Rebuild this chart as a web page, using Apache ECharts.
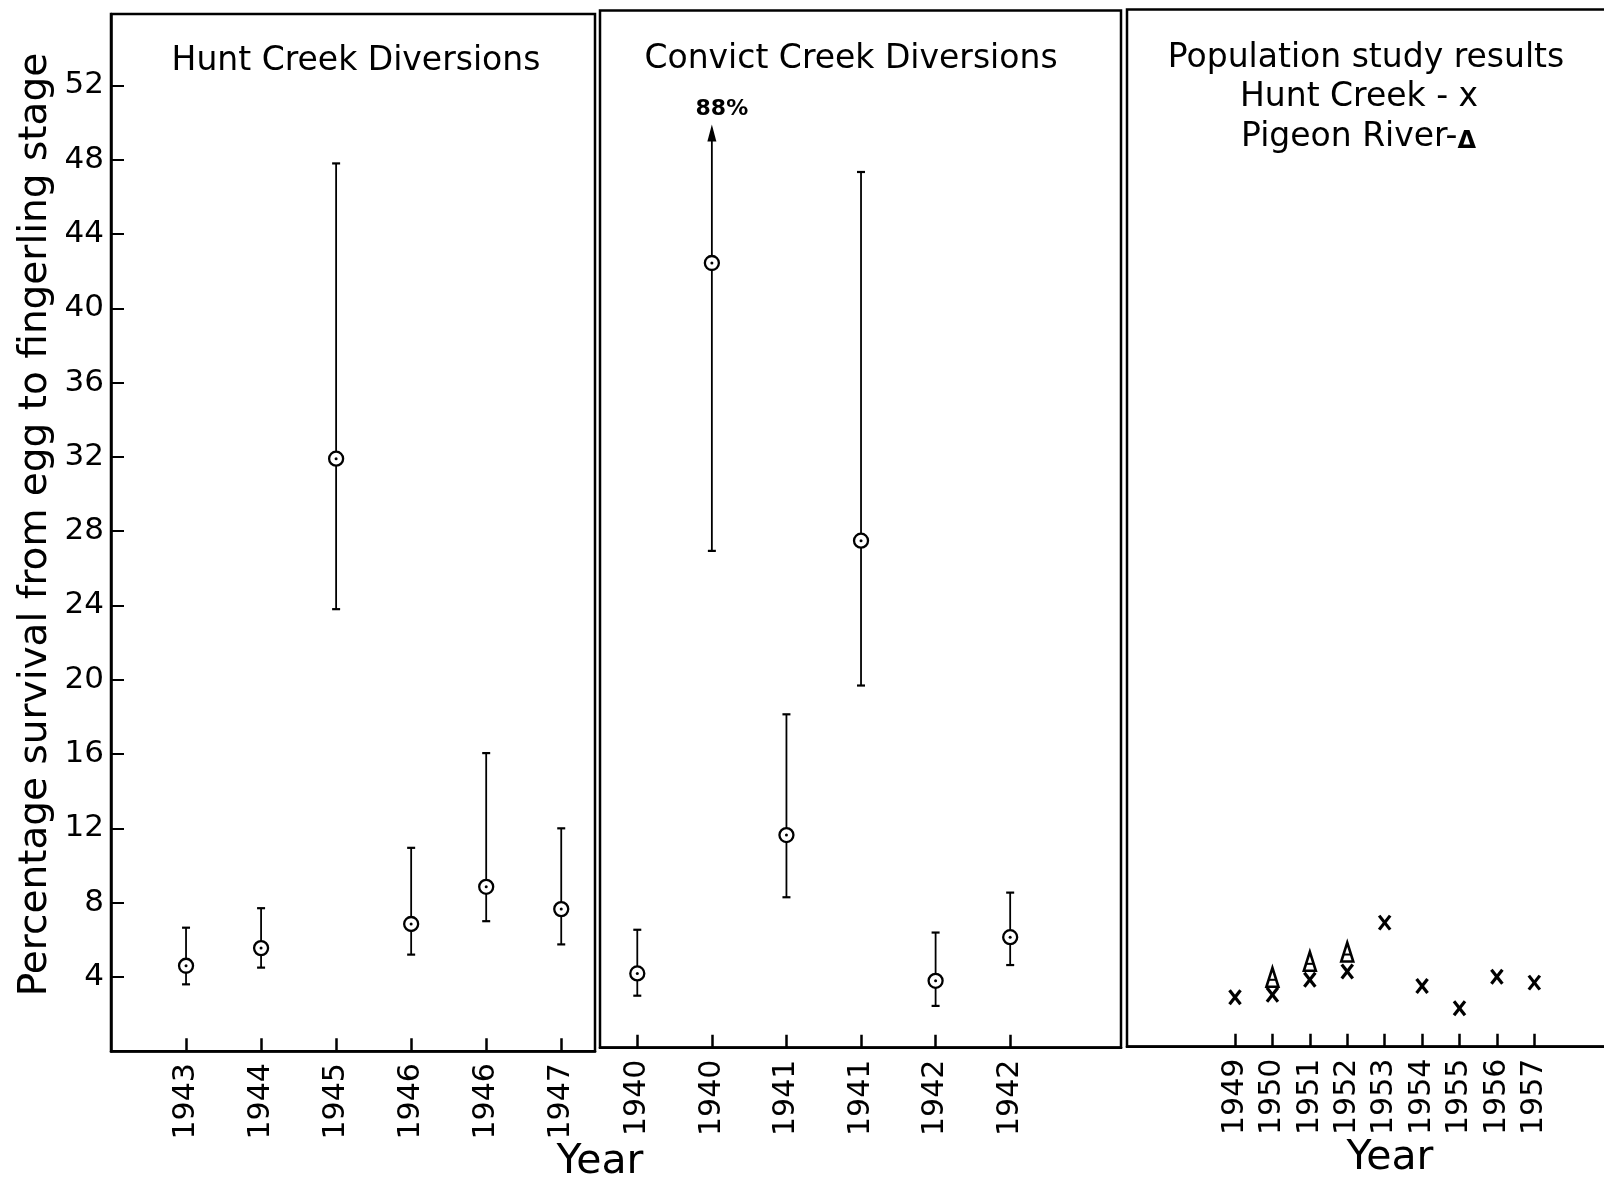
<!DOCTYPE html>
<html>
<head>
<meta charset="utf-8">
<script src="https://cdn.jsdelivr.net/npm/echarts@6/dist/echarts.min.js"></script>
<style>
html,body{margin:0;padding:0;background:#fff;}
#chart{width:1604px;height:1180px;}
</style>
</head>
<body>
<div id="chart"></div>
<script>
// ---------- data ----------
const yTicks = [4, 8, 12, 16, 20, 24, 28, 32, 36, 40, 44, 48, 52];

const huntLabels = ['1943', '1944', '1945', '1946', '1946', '1947'];
const huntMean   = [4.6, 5.55, 31.9, 6.85, 8.85, 7.65];
const huntLow    = [3.6, 4.5, 23.8, 5.2, 7.0, 5.75];
const huntHigh   = [6.65, 7.7, 47.8, 10.95, 16.05, 12.0];

const convictLabels = ['1940', '1940', '1941', '1941', '1942', '1942'];
const convictMean   = [4.0, 42.25, 11.45, 27.3, 3.6, 5.95];
const convictLow    = [2.8, 26.75, 8.1, 19.5, 2.25, 4.45];
const convictHigh   = [6.35, 49.7, 17.95, 47.15, 6.2, 8.35];
const convictArrow  = [0, 1, 0, 0, 0, 0];
const convictNote   = ['', '88%', '', '', '', ''];

const popYears     = [1949, 1950, 1951, 1952, 1953, 1954, 1955, 1956, 1957];
const popHuntCreek = [2.66, 2.8, 3.6, 4.05, 6.68, 3.27, 2.07, 3.77, 3.45];
const pigeonYears  = [1950, 1951, 1952];
const pigeonValues = [3.71, 4.57, 5.07];

// ---------- chart ----------
const FONT = 'DejaVu Sans';
const BLACK = '#000';
const Y_MAX = 55.85;
const GRID_H = 1037.3;

const chart = echarts.init(document.getElementById('chart'), null, {renderer: 'canvas'});

function baseX(gridIndex, min, max, ticks, fmt) {
  return {
    type: 'value', gridIndex, min, max,
    axisLine: {show: true, onZero: false, lineStyle: {color: BLACK, width: 2.5}},
    axisTick: {show: true, inside: true, length: 13, customValues: ticks,
      lineStyle: {color: BLACK, width: 2.5}},
    axisLabel: {show: true, customValues: ticks, formatter: fmt, rotate: 90, margin: 12,
      fontSize: 30, fontFamily: FONT, color: BLACK},
    splitLine: {show: false}
  };
}
function baseY(gridIndex, showLabels) {
  return {
    type: 'value', gridIndex, min: 0, max: Y_MAX, interval: 4,
    axisLine: {show: showLabels, lineStyle: {color: BLACK, width: 2.5}},
    axisTick: {show: showLabels, inside: true, length: 13, customValues: yTicks,
      lineStyle: {color: BLACK, width: 2}},
    axisLabel: {show: showLabels, customValues: yTicks, margin: 7,
      fontSize: 31, fontFamily: FONT, color: BLACK},
    splitLine: {show: false},
    name: showLabels ? 'Percentage survival from egg to fingerling stage' : '',
    nameLocation: 'middle', nameGap: 56, nameRotate: 90, nameMoveOverlap: false,
    nameTextStyle: {fontSize: 39, fontFamily: FONT, color: BLACK, padding: [0, 0, 0, 16]}
  };
}

function errRender(notes) {
  return function (params, api) {
    const x = api.value(0), m = api.value(1), lo = api.value(2), hi = api.value(3), arrow = api.value(4);
    const pm = api.coord([x, m]), pl = api.coord([x, lo]), ph = api.coord([x, hi]);
    const ch = [];
    ch.push({type: 'line', shape: {x1: pl[0], y1: pl[1], x2: ph[0], y2: arrow ? ph[1] + 12 : ph[1]},
      style: {stroke: BLACK, lineWidth: 1.8}});
    ch.push({type: 'line', shape: {x1: pl[0] - 4, y1: pl[1], x2: pl[0] + 4, y2: pl[1]},
      style: {stroke: BLACK, lineWidth: 2.2}});
    if (arrow) {
      ch.push({type: 'polygon', shape: {points: [[ph[0], ph[1]], [ph[0] - 4.5, ph[1] + 17], [ph[0] + 4.5, ph[1] + 17]]},
        style: {fill: BLACK}});
      if (notes && notes[params.dataIndex]) {
        ch.push({type: 'text', x: ph[0] + 10, y: ph[1] - 15,
          style: {text: notes[params.dataIndex], font: 'bold 22px "DejaVu Sans"', fill: BLACK,
            align: 'center', verticalAlign: 'middle'}});
      }
    } else {
      ch.push({type: 'line', shape: {x1: ph[0] - 4, y1: ph[1], x2: ph[0] + 4, y2: ph[1]},
        style: {stroke: BLACK, lineWidth: 2.2}});
    }
    ch.push({type: 'circle', shape: {cx: pm[0], cy: pm[1], r: 7}, style: {fill: '#fff', stroke: BLACK, lineWidth: 2.3}});
    ch.push({type: 'circle', shape: {cx: pm[0], cy: pm[1], r: 1.5}, style: {fill: BLACK}});
    return {type: 'group', children: ch};
  };
}

function crossRender(params, api) {
  const p = api.coord([api.value(0), api.value(1)]);
  const w = 5.5, h = 7;
  return {type: 'group', children: [
    {type: 'line', shape: {x1: p[0] - w, y1: p[1] - h, x2: p[0] + w, y2: p[1] + h}, style: {stroke: BLACK, lineWidth: 3.2}},
    {type: 'line', shape: {x1: p[0] + w, y1: p[1] - h, x2: p[0] - w, y2: p[1] + h}, style: {stroke: BLACK, lineWidth: 3.2}}
  ]};
}
function triRender(params, api) {
  const p = api.coord([api.value(0), api.value(1)]);
  return {type: 'group', children: [
    {type: 'polygon', shape: {points: [[p[0], p[1] - 10], [p[0] - 6, p[1] + 9], [p[0] + 6, p[1] + 9]]},
      style: {fill: 'none', stroke: BLACK, lineWidth: 2.6}},
    {type: 'line', shape: {x1: p[0] - 4, y1: p[1] + 2, x2: p[0] + 4, y2: p[1] + 2}, style: {stroke: BLACK, lineWidth: 2}}
  ]};
}

function txt(text, x, y, size, align, extra) {
  return Object.assign({type: 'text', x, y, silent: true,
    style: Object.assign({text, font: size + 'px "DejaVu Sans"', fill: BLACK,
      align: align || 'center', verticalAlign: 'middle'}, extra || {})});
}

const option = {
  backgroundColor: '#fff',
  animation: false,
  grid: [
    {left: 111, top: 13.9, width: 484, height: GRID_H, show: true, borderColor: BLACK, borderWidth: 2.5, containLabel: false, outerBoundsMode: 'none'},
    {left: 600, top: 10.4, width: 521, height: GRID_H, show: true, borderColor: BLACK, borderWidth: 2.5, containLabel: false, outerBoundsMode: 'none'},
    {left: 1127, top: 9.4, width: 487, height: GRID_H, show: true, borderColor: BLACK, borderWidth: 2.5, containLabel: false, outerBoundsMode: 'none'}
  ],
  xAxis: [
    baseX(0, 0, 6.45, huntLabels.map((_, i) => i + 1), v => huntLabels[Math.round(v) - 1] || ''),
    baseX(1, 0.5, 7.486, convictLabels.map((_, i) => i + 1), v => convictLabels[Math.round(v) - 1] || ''),
    baseX(2, 1946.113, 1959.13, popYears, v => String(Math.round(v)))
  ],
  yAxis: [baseY(0, true), baseY(1, false), baseY(2, false)],
  series: [
    {type: 'custom', xAxisIndex: 0, yAxisIndex: 0, silent: true, renderItem: errRender(null),
      data: huntMean.map((m, i) => [i + 1, m, huntLow[i], huntHigh[i], 0])},
    {type: 'custom', xAxisIndex: 1, yAxisIndex: 1, silent: true, renderItem: errRender(convictNote),
      data: convictMean.map((m, i) => [i + 1, m, convictLow[i], convictHigh[i], convictArrow[i]])},
    {type: 'custom', xAxisIndex: 2, yAxisIndex: 2, silent: true, renderItem: crossRender,
      data: popYears.map((y, i) => [y, popHuntCreek[i]])},
    {type: 'custom', xAxisIndex: 2, yAxisIndex: 2, silent: true, renderItem: triRender,
      data: pigeonYears.map((y, i) => [y, pigeonValues[i]])}
  ],
  graphic: [
    txt('Hunt Creek Diversions', 356, 61, 33),
    txt('Convict Creek Diversions', 851, 59, 33),
    txt('Population study results', 1366, 58, 33),
    txt('Hunt Creek - x', 1240, 97, 33, 'left'),
    txt('Pigeon River-{s|Δ}', 1241, 137, 33, 'left', {rich: {s: {fontSize: 24, fontWeight: 'bold', fontFamily: FONT, fill: BLACK, verticalAlign: 'bottom'}}}),
    txt('Year', 600, 1162, 41),
    txt('Year', 1390, 1158, 41)
  ]
};
chart.setOption(option);
</script>
</body>
</html>
